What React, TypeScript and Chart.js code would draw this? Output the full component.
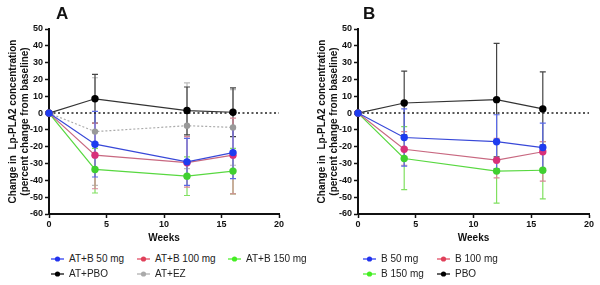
import React, { useEffect, useRef } from "react";
import { Chart, registerables } from "chart.js";
Chart.register(...registerables);

const FONT = '"Liberation Sans", Arial, sans-serif';

// ---- shared ----
const weeks = [0, 4, 12, 16];
const xMin = 0, xMax = 20, xStep = 5;
const yMin = -60, yMax = 50, yStep = 10;
const yTitle = ["Change in  Lp-PLA2 concentration", "(percent change from baseline)"];
const xTitle = "Weeks";

// ---- Panel A ----
const aLabels = ["AT+B 50 mg", "AT+B 100 mg", "AT+B 150 mg", "AT+PBO", "AT+EZ"];
const aB50 = [0, -18.5, -29, -23.5];
const aB50Up = [0, 1, -15, -8];
const aB50Down = [0, -38, -43, -39];
const aB100 = [0, -25, -29.5, -25];
const aB100Up = [0, -6, -14, -3];
const aB100Down = [0, -45, -44, -48];
const aB150 = [0, -33.5, -37.5, -34.5];
const aB150Up = [0, -21, -26, -21];
const aB150Down = [0, -47.5, -49, -48];
const aPBO = [0, 8.5, 1.5, 0.5];
const aPBOUp = [0, 23, 15.5, 15];
const aPBODown = [0, -6, -13, -14];
const aEZ = [0, -11, -7.5, -8.5];
const aEZUp = [0, 21, 18, 14];
const aEZDown = [0, -43, -33, -31];

// ---- Panel B ----
const bLabels = ["B 50 mg", "B 100 mg", "B 150 mg", "PBO"];
const b50 = [0, -14.5, -17, -20.5];
const b50Up = [0, 2.5, -1, -6];
const b50Down = [0, -31.5, -33, -35];
const b100 = [0, -21.5, -28, -23];
const b100Up = [0, -11, -15, -17];
const b100Down = [0, -31, -38.5, -40.5];
const b150 = [0, -27, -34.5, -34];
const b150Up = [0, -8, -16, -17];
const b150Down = [0, -45.5, -53.5, -51];
const bPBO = [0, 6, 8, 2.5];
const bPBOUp = [0, 25, 41.5, 24.5];
const bPBODown = [0, -13, -26, -19];

// colours
const C = {
  blue: { line: "#3848d8", point: "#1d3cf0", err: "#5a6ae8", legend: "#2233ee" },
  red: { line: "#c86880", point: "#d8307a", err: "#d88898", legend: "#e0405a" },
  green: { line: "#58d840", point: "#40d030", err: "#80e060", legend: "#44ee22" },
  black: { line: "#333333", point: "#000000", err: "#444444", legend: "#000000" },
  gray: { line: "#aaaaaa", point: "#999999", err: "#bbbbbb", legend: "#aaaaaa" },
};

type Series = {
  label: string;
  values: number[];
  up: number[];
  down: number[];
  color: { line: string; point: string; err: string; legend: string };
  dashed?: boolean;
};

const seriesA: Series[] = [
  { label: aLabels[0], values: aB50, up: aB50Up, down: aB50Down, color: C.blue },
  { label: aLabels[1], values: aB100, up: aB100Up, down: aB100Down, color: C.red },
  { label: aLabels[2], values: aB150, up: aB150Up, down: aB150Down, color: C.green },
  { label: aLabels[3], values: aPBO, up: aPBOUp, down: aPBODown, color: C.black },
  { label: aLabels[4], values: aEZ, up: aEZUp, down: aEZDown, color: C.gray, dashed: true },
];

const seriesB: Series[] = [
  { label: bLabels[0], values: b50, up: b50Up, down: b50Down, color: C.blue },
  { label: bLabels[1], values: b100, up: b100Up, down: b100Down, color: C.red },
  { label: bLabels[2], values: b150, up: b150Up, down: b150Down, color: C.green },
  { label: bLabels[3], values: bPBO, up: bPBOUp, down: bPBODown, color: C.black },
];

const errorBarPlugin = {
  id: "errorBars",
  beforeDatasetsDraw(chart: any) {
    const { ctx } = chart;
    const xs = chart.scales.x;
    const ys = chart.scales.y;
    const dss = chart.data.datasets;
    for (let i = dss.length - 1; i >= 0; i--) {
      const ds = dss[i];
      if (!ds.errUp) continue;
      ctx.save();
      ctx.strokeStyle = ds.errColor;
      ctx.lineWidth = 1.2;
      ds.data.forEach((p: any, j: number) => {
        const up = ds.errUp[j];
        const dn = ds.errDown[j];
        if (up === dn) return;
        const x = xs.getPixelForValue(p.x);
        const y1 = ys.getPixelForValue(up);
        const y2 = ys.getPixelForValue(dn);
        ctx.beginPath();
        ctx.moveTo(x, y1);
        ctx.lineTo(x, y2);
        ctx.moveTo(x - 3, y1);
        ctx.lineTo(x + 3, y1);
        ctx.moveTo(x - 3, y2);
        ctx.lineTo(x + 3, y2);
        ctx.stroke();
      });
      ctx.restore();
    }
  },
};

type LegendPos = { x: number; y: number };

function Panel(props: {
  left: number;
  letter: string;
  letterLeft: number;
  series: Series[];
  legendPos: LegendPos[];
  padRight: number;
}) {
  const ref = useRef<HTMLCanvasElement>(null);
  useEffect(() => {
    const datasets: any[] = props.series.map((s) => ({
      label: s.label,
      data: weeks.map((w, i) => ({ x: w, y: s.values[i] })),
      borderColor: s.color.line,
      backgroundColor: s.color.point,
      pointBackgroundColor: s.color.point,
      pointBorderWidth: 0,
      pointRadius: s.dashed ? 3.2 : 3.7,
      borderWidth: 1.2,
      borderDash: s.dashed ? [2, 2] : [],
      tension: 0,
      clip: false,
      errUp: s.up,
      errDown: s.down,
      errColor: s.color.err,
    }));
    datasets.push({
      label: "zero",
      data: [
        { x: xMin, y: 0 },
        { x: xMax, y: 0 },
      ],
      borderColor: "#222222",
      borderWidth: 1.5,
      borderDash: [2, 2.5],
      pointRadius: 0,
      clip: false,
    });
    const tickFont = { family: FONT, size: 9, weight: "bold" as const };
    const titleFont = { family: FONT, size: 10, weight: "bold" as const, lineHeight: 1.2 };
    const chart = new Chart(ref.current!, {
      type: "line",
      data: { datasets },
      plugins: [errorBarPlugin],
      options: {
        animation: false,
        responsive: false,
        maintainAspectRatio: false,
        layout: { padding: { left: 0, right: props.padRight, top: 29, bottom: 0 } },
        plugins: { legend: { display: false }, tooltip: { enabled: false } },
        scales: {
          x: {
            type: "linear",
            min: xMin,
            max: xMax,
            ticks: { stepSize: xStep, font: tickFont, color: "#111", padding: 1 },
            grid: {
              display: true,
              drawOnChartArea: false,
              drawTicks: true,
              tickLength: 4,
              tickColor: "#111",
              tickWidth: 1.5,
            },
            border: { display: true, color: "#111", width: 2 },
            title: {
              display: true,
              text: xTitle,
              font: titleFont,
              color: "#111",
              padding: { top: 0, bottom: 1 },
            },
            afterFit: (s: any) => {
              s.height = 31;
            },
          },
          y: {
            type: "linear",
            min: yMin,
            max: yMax,
            ticks: { stepSize: yStep, font: tickFont, color: "#111", padding: 2 },
            grid: {
              display: true,
              drawOnChartArea: false,
              drawTicks: true,
              tickLength: 4,
              tickColor: "#111",
              tickWidth: 1.5,
            },
            border: { display: true, color: "#111", width: 2 },
            title: {
              display: true,
              text: yTitle,
              font: titleFont,
              color: "#111",
              padding: { top: 7, bottom: 0 },
            },
            afterFit: (s: any) => {
              s.width = 49;
            },
          },
        },
      } as any,
    });
    return () => chart.destroy();
  }, []);

  return (
    <>
      <canvas
        ref={ref}
        width={291}
        height={245}
        style={{ position: "absolute", left: props.left, top: 0, width: 291, height: 245 }}
      />
      <div
        style={{
          position: "absolute",
          left: props.letterLeft,
          top: 5,
          font: `bold 17px ${FONT}`,
          lineHeight: "17px",
          color: "#111",
        }}
      >
        {props.letter}
      </div>
      {props.series.map((s, i) => (
        <div
          key={s.label}
          style={{
            position: "absolute",
            left: props.legendPos[i].x,
            top: props.legendPos[i].y - 7,
            height: 14,
            display: "flex",
            alignItems: "center",
            whiteSpace: "nowrap",
          }}
        >
          <svg width={13} height={14} style={{ display: "block" }}>
            <line x1={0} y1={7} x2={13} y2={7} stroke={s.color.legend} strokeWidth={1.2} />
            <circle cx={6.5} cy={7} r={2.6} fill={s.color.legend} />
          </svg>
          <span
            style={{
              marginLeft: 5,
              font: `10px ${FONT}`,
              lineHeight: "14px",
              color: "#222",
            }}
          >
            {s.label}
          </span>
        </div>
      ))}
    </>
  );
}

const legendA: LegendPos[] = [
  { x: 51, y: 259 },
  { x: 137, y: 259 },
  { x: 228, y: 259 },
  { x: 51, y: 274 },
  { x: 137, y: 274 },
];
const legendB: LegendPos[] = [
  { x: 363, y: 259 },
  { x: 437, y: 259 },
  { x: 363, y: 274 },
  { x: 437, y: 274 },
];

export default function App() {
  return (
    <div
      style={{
        position: "absolute",
        left: 0,
        top: 0,
        width: 600,
        height: 285,
        background: "#fff",
        overflow: "hidden",
      }}
    >
      <Panel left={0} letter="A" letterLeft={56} series={seriesA} legendPos={legendA} padRight={12} />
      <Panel left={309} letter="B" letterLeft={363} series={seriesB} legendPos={legendB} padRight={11} />
    </div>
  );
}
